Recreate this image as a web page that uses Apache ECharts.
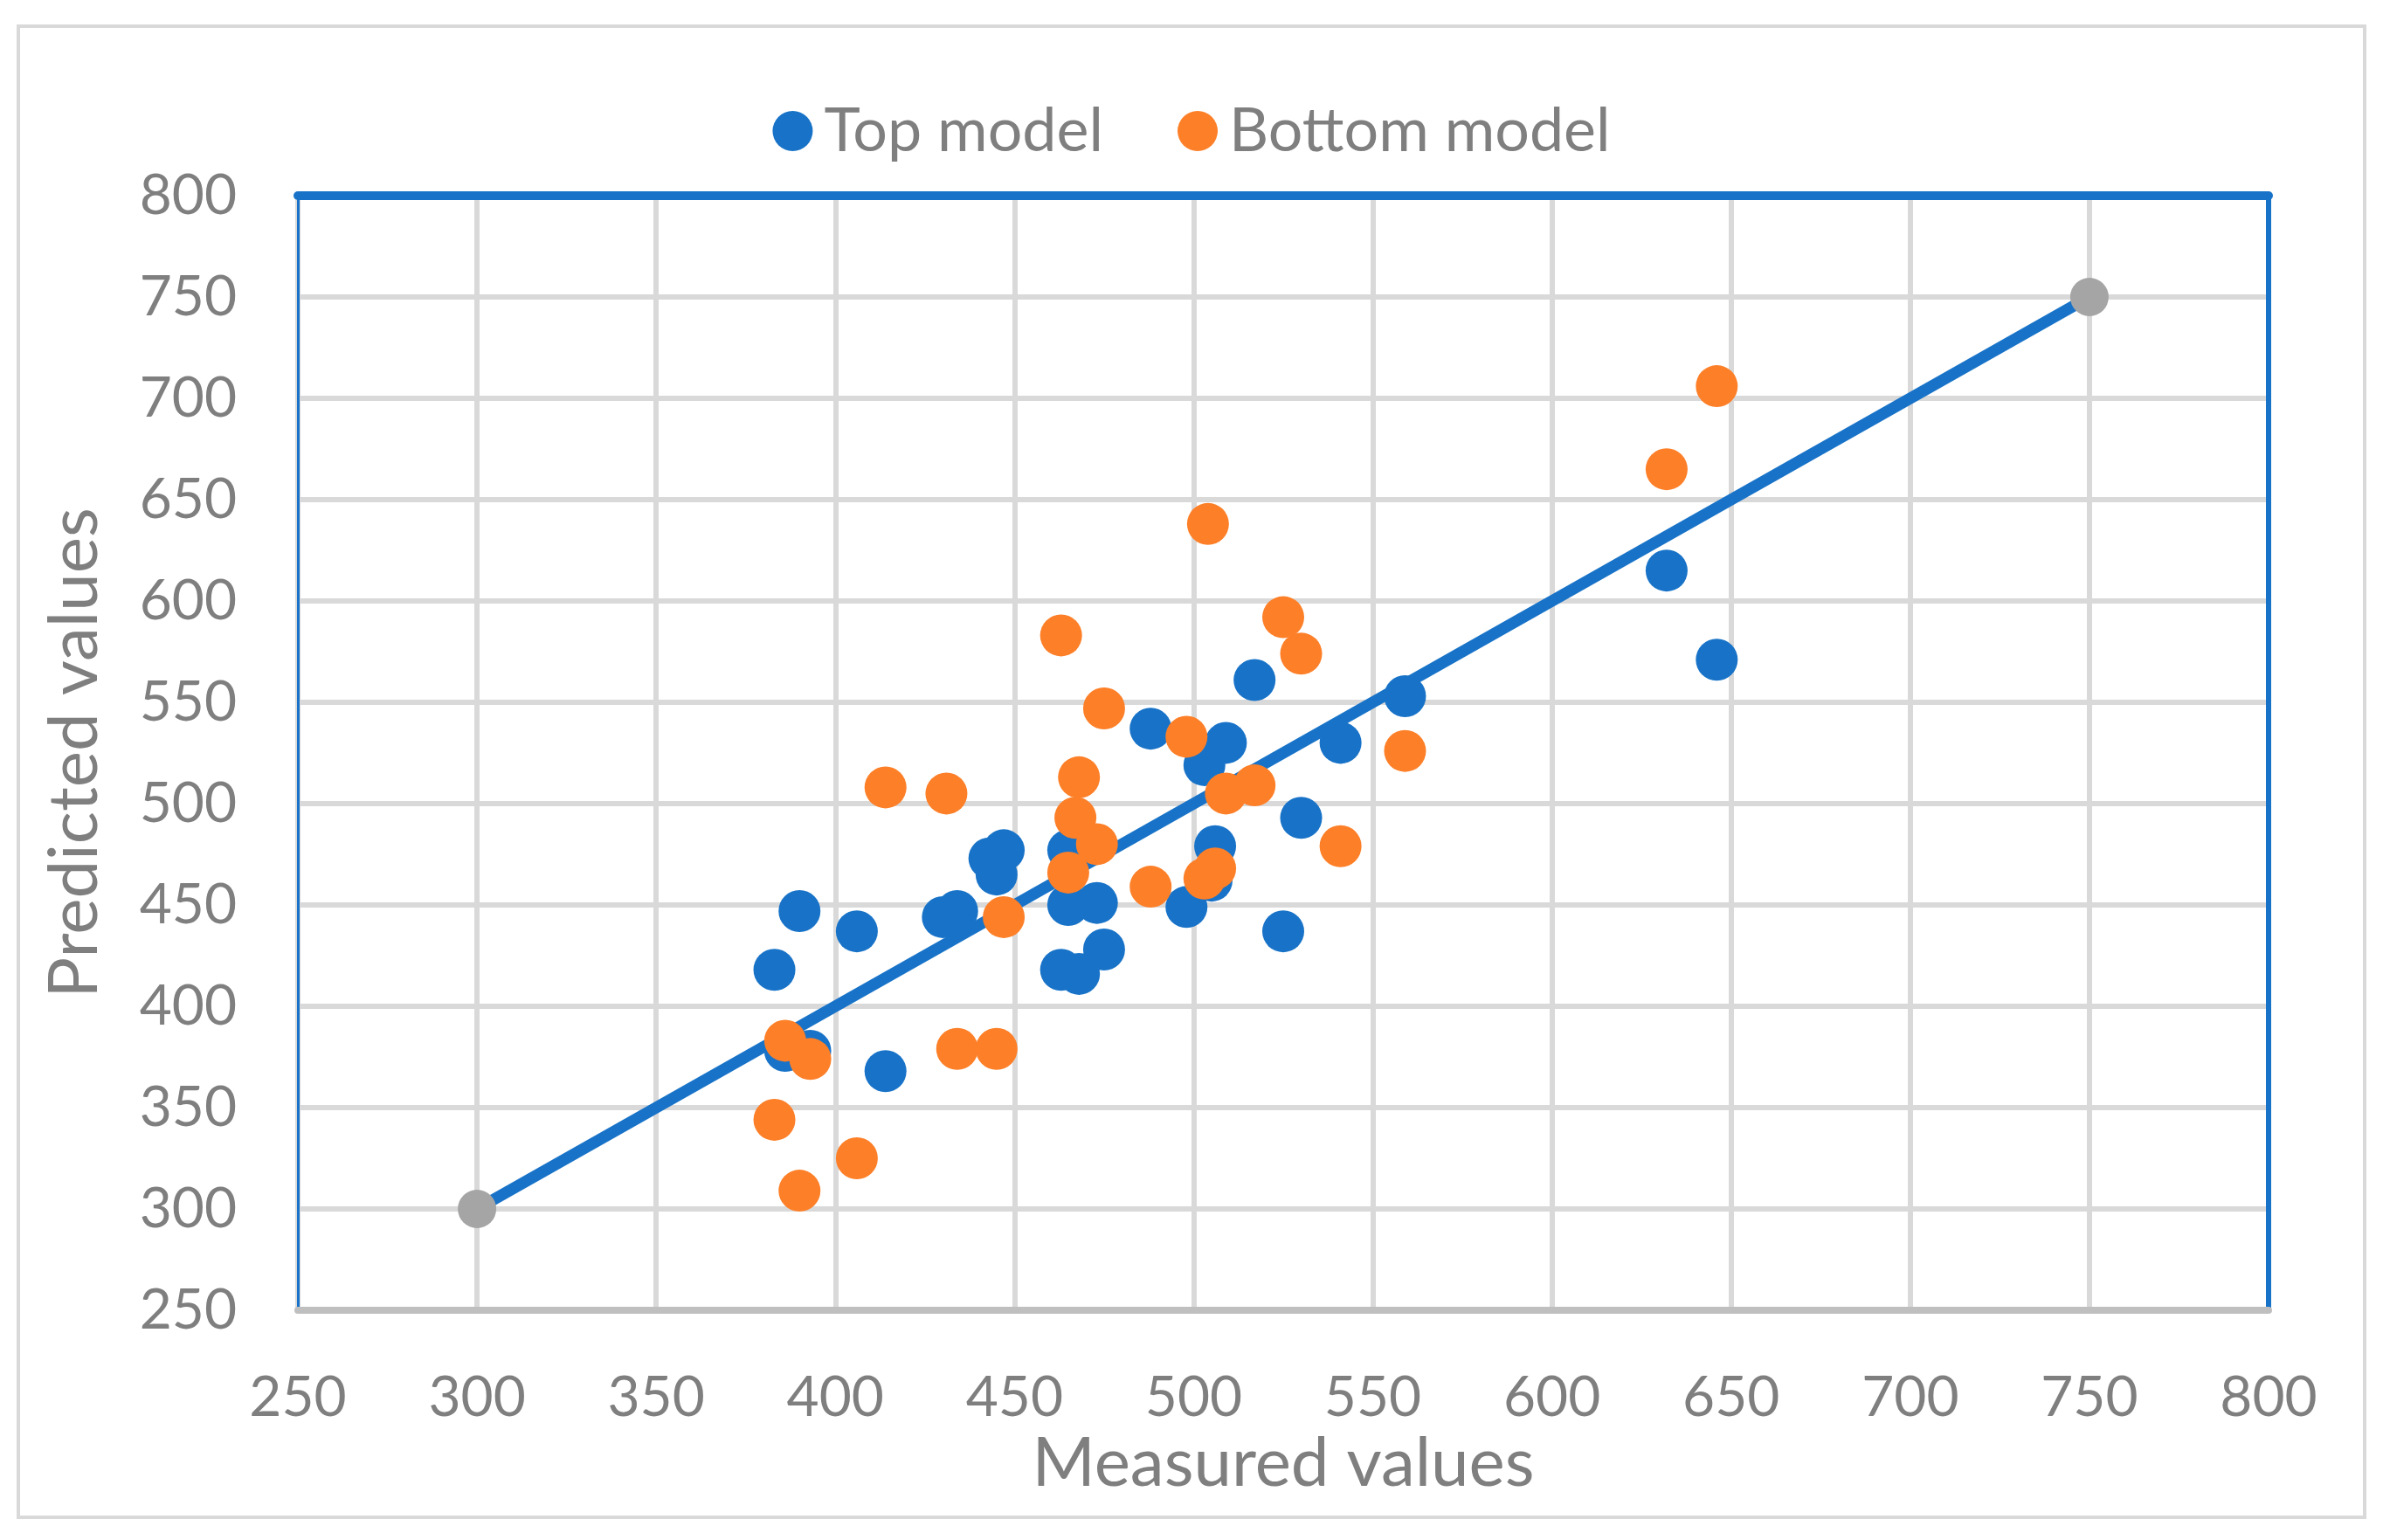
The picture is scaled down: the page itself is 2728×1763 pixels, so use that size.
<!DOCTYPE html>
<html>
<head>
<meta charset="utf-8">
<script src="https://cdn.jsdelivr.net/npm/echarts@6/dist/echarts.min.js"></script>
<style>
html,body{margin:0;padding:0;background:#fff;}
#chart{width:2728px;height:1763px;}
</style>
</head>
<body>
<div id="chart"></div>
<script>
const topX = [383, 386, 393, 390, 406, 414, 430, 434, 443, 445, 447, 463, 468, 465, 473, 475, 465, 488, 498, 503, 509, 517, 506, 505, 525, 530, 541, 559, 632, 646];
const topY = [418, 378, 378, 447, 437, 368, 444, 447, 473, 465, 477, 418, 416, 450, 451, 428, 477, 537, 449, 519, 530, 561, 479, 462, 437, 493, 530, 553, 615, 571];
const bottomX = [383, 386, 393, 390, 406, 414, 431, 434, 445, 447, 463, 465, 467, 468, 473, 475, 488, 498, 503, 506, 504, 509, 517, 525, 530, 541, 559, 632, 646];
const bottomY = [344, 383, 374, 309, 325, 508, 505, 379, 379, 444, 583, 466, 493, 513, 480, 547, 459, 533, 463, 468, 638, 505, 509, 592, 574, 479, 526, 665, 706];
const lineX = [300, 750];
const lineY = [300, 750];
const xTicks = {min: 250, max: 800, step: 50};
const yTicks = {min: 250, max: 800, step: 50};

const zip = (a, b) => a.map((v, i) => [v, b[i]]);
const FONT = 'Lato';
const GREY = '#7f7f7f';
const BLUE = '#1873c8';
const ORANGE = '#fd7f28';

const chart = echarts.init(document.getElementById('chart'));
chart.setOption({
  animation: false,
  backgroundColor: '#fff',
  graphic: [{
    type: 'rect', shape: {x: 21, y: 30, width: 2686, height: 1707},
    style: {fill: 'none', stroke: '#d9d9d9', lineWidth: 4}, z: -10
  }],
  legend: {
    data: ['Top model', 'Bottom model'],
    top: 110, left: 'center',
    icon: 'circle', itemWidth: 46, itemHeight: 46, itemGap: 85,
    textStyle: {fontFamily: FONT, fontSize: 70, color: GREY, padding: [0, 0, 0, 8]}
  },
  grid: {left: 341, right: 131, top: 224, bottom: 263, containLabel: false},
  xAxis: [{
    type: 'value', position: 'bottom', min: xTicks.min, max: xTicks.max, interval: xTicks.step,
    name: 'Measured values', nameLocation: 'middle', nameGap: 134,
    nameTextStyle: {fontFamily: FONT, fontSize: 78, color: GREY},
    axisLine: {onZero: false, lineStyle: {color: '#bfbfbf', width: 8}},
    axisTick: {show: false},
    axisLabel: {fontFamily: FONT, fontSize: 64, color: GREY, margin: 68},
    splitLine: {show: true, lineStyle: {color: '#d9d9d9', width: 6}}
  }, {
    type: 'value', position: 'top', min: xTicks.min, max: xTicks.max, interval: xTicks.step,
    axisLine: {onZero: false, lineStyle: {color: BLUE, width: 10}},
    axisTick: {show: false}, axisLabel: {show: false}, splitLine: {show: false}
  }],
  yAxis: [{
    type: 'value', position: 'left', min: yTicks.min, max: yTicks.max, interval: yTicks.step,
    name: 'Predicted values', nameLocation: 'middle', nameGap: 216,
    nameTextStyle: {fontFamily: FONT, fontSize: 78, color: GREY},
    axisLine: {show: true, onZero: false, lineStyle: {color: BLUE, width: 3}},
    axisTick: {show: false},
    axisLabel: {fontFamily: FONT, fontSize: 64, color: GREY, margin: 70},
    splitLine: {show: true, lineStyle: {color: '#d9d9d9', width: 6}}
  }, {
    type: 'value', position: 'right', min: yTicks.min, max: yTicks.max, interval: yTicks.step,
    axisLine: {show: true, onZero: false, lineStyle: {color: BLUE, width: 6}},
    axisTick: {show: false}, axisLabel: {show: false}, splitLine: {show: false}
  }],
  series: [{
    name: 'Line', type: 'line', data: zip(lineX, lineY),
    symbol: 'circle', symbolSize: 44, showSymbol: true,
    lineStyle: {color: BLUE, width: 13},
    itemStyle: {color: '#a5a5a5'}, z: 1, silent: true
  }, {
    name: 'Top model', type: 'scatter', data: zip(topX, topY),
    symbol: 'circle', symbolSize: 48, itemStyle: {color: BLUE, opacity: 1}, z: 2
  }, {
    name: 'Bottom model', type: 'scatter', data: zip(bottomX, bottomY),
    symbol: 'circle', symbolSize: 48, itemStyle: {color: ORANGE, opacity: 1}, z: 3
  }]
});
</script>
</body>
</html>
